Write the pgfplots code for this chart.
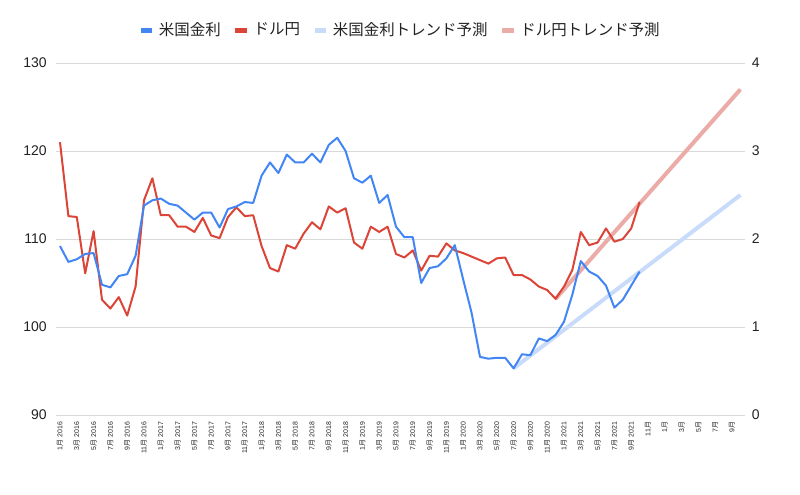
\documentclass[border=0pt]{standalone}
\usepackage{fontspec}
\setmainfont{Liberation Sans}
\newfontfamily\cjk{Noto Sans CJK JP}
\usepackage{pgfplots}
\usepackage{pgfplotstable}
\pgfplotsset{compat=1.18}

\definecolor{cblue}{HTML}{4285F4}
\definecolor{cred}{HTML}{DB4437}
\definecolor{cgrid}{HTML}{D9D9D9}
\definecolor{tblue}{HTML}{C9DBFB}
\definecolor{tred}{HTML}{EBABA6}
\definecolor{ctext}{HTML}{222222}

\newcommand\ml[2]{#1{\cjk 月} #2}

\pgfplotstableread{
m jpy rate
0 121.0 1.92
1 112.6 1.74
2 112.5 1.77
3 106.1 1.83
4 110.9 1.84
5 103.1 1.48
6 102.1 1.45
7 103.4 1.58
8 101.3 1.60
9 104.6 1.81
10 114.4 2.38
11 116.9 2.44
12 112.7 2.46
13 112.7 2.40
14 111.4 2.38
15 111.4 2.30
16 110.8 2.22
17 112.4 2.30
18 110.4 2.30
19 110.1 2.13
20 112.5 2.34
21 113.6 2.37
22 112.6 2.42
23 112.7 2.41
24 109.2 2.72
25 106.7 2.87
26 106.3 2.75
27 109.3 2.96
28 108.9 2.87
29 110.6 2.87
30 111.9 2.97
31 111.1 2.87
32 113.7 3.07
33 113.0 3.15
34 113.5 3.00
35 109.6 2.69
36 108.9 2.64
37 111.4 2.72
38 110.8 2.41
39 111.4 2.50
40 108.3 2.14
41 107.9 2.02
42 108.7 2.02
43 106.4 1.50
44 108.1 1.67
45 108.0 1.69
46 109.5 1.78
47 108.7 1.93
48 108.4 1.54
49 108.0 1.16
50 107.6 0.66
51 107.2 0.64
52 107.8 0.65
53 107.9 0.65
54 105.9 0.53
55 105.9 0.69
56 105.4 0.68
57 104.6 0.87
58 104.2 0.84
59 103.2 0.91
60 104.6 1.06
61 106.5 1.37
62 110.8 1.75
63 109.3 1.63
64 109.6 1.58
65 111.2 1.47
66 109.7 1.22
67 110.0 1.31
68 111.2 1.47
69 114.2 1.63
}\data

\begin{document}
\begin{tikzpicture}
\path[use as bounding box] (-41.85pt,-59.25pt) rectangle (558.15pt,311.25pt);
\pgfplotsset{
  common/.style={
    at={(0,0)}, anchor=south west,
    scale only axis, width=516.6pt, height=264pt,
    xmin=-0.5, xmax=81.5,
    axis line style={draw=none},
    major tick length=0pt,
    /pgf/number format/assume math mode=true,
    yticklabel style={font=\fontsize{10.5}{12}\selectfont, inner sep=0pt, text=ctext},
  }
}
\begin{axis}[
  common,
  ymin=90, ymax=130,
  ytick={90,100,110,120,130},
  ymajorgrids,
  grid style={cgrid, line width=0.75pt},
  yticklabel shift=6.6pt,
  xtick={0,2,...,80},
  xticklabels={\ml{1}{2016},\ml{3}{2016},\ml{5}{2016},\ml{7}{2016},\ml{9}{2016},\ml{11}{2016},
    \ml{1}{2017},\ml{3}{2017},\ml{5}{2017},\ml{7}{2017},\ml{9}{2017},\ml{11}{2017},
    \ml{1}{2018},\ml{3}{2018},\ml{5}{2018},\ml{7}{2018},\ml{9}{2018},\ml{11}{2018},
    \ml{1}{2019},\ml{3}{2019},\ml{5}{2019},\ml{7}{2019},\ml{9}{2019},\ml{11}{2019},
    \ml{1}{2020},\ml{3}{2020},\ml{5}{2020},\ml{7}{2020},\ml{9}{2020},\ml{11}{2020},
    \ml{1}{2021},\ml{3}{2021},\ml{5}{2021},\ml{7}{2021},\ml{9}{2021},
    11{\cjk 月},1{\cjk 月},3{\cjk 月},5{\cjk 月},7{\cjk 月},9{\cjk 月}},
  xticklabel style={rotate=90, anchor=east, font=\fontsize{5.2}{6}\selectfont, inner sep=0pt, text=ctext},
  xticklabel shift=5pt,
]
\addplot[tred, line width=3pt, forget plot] coordinates {(59,103.2) (81,127.0)};
\addplot[cred, line width=1.5pt, line join=round, forget plot] table[x=m,y=jpy]{\data};
\end{axis}
\begin{axis}[
  common,
  ymin=0, ymax=4,
  ytick={0,1,2,3,4},
  axis x line=none,
  axis y line*=right,
  yticklabel style={anchor=west},
  yticklabel shift=5.3pt,
  legend style={at={(0.5,1.094)}, anchor=center, draw=none, fill=none,
    legend columns=4, font=\cjk\fontsize{11.6}{13}\selectfont, text=ctext,
    nodes={inner sep=0pt},
    /tikz/every odd column/.append style={column sep=5.25pt},
    /tikz/every even column/.append style={column sep=11pt}},
  legend image code/.code={\fill[#1] (0pt,-1.5pt) rectangle (8pt,1.5pt);},
]
\addplot[tblue, line width=3pt, forget plot] coordinates {(54,0.53) (81,2.5)};
\addplot[cblue, line width=1.5pt, line join=round, forget plot] table[x=m,y=rate]{\data};
\addlegendimage{cblue}
\addlegendentry{米国金利}
\addlegendimage{cred}
\addlegendentry{ドル円}
\addlegendimage{tblue}
\addlegendentry{米国金利トレンド予測}
\addlegendimage{tred}
\addlegendentry{ドル円トレンド予測}
\end{axis}
\end{tikzpicture}
\end{document}
